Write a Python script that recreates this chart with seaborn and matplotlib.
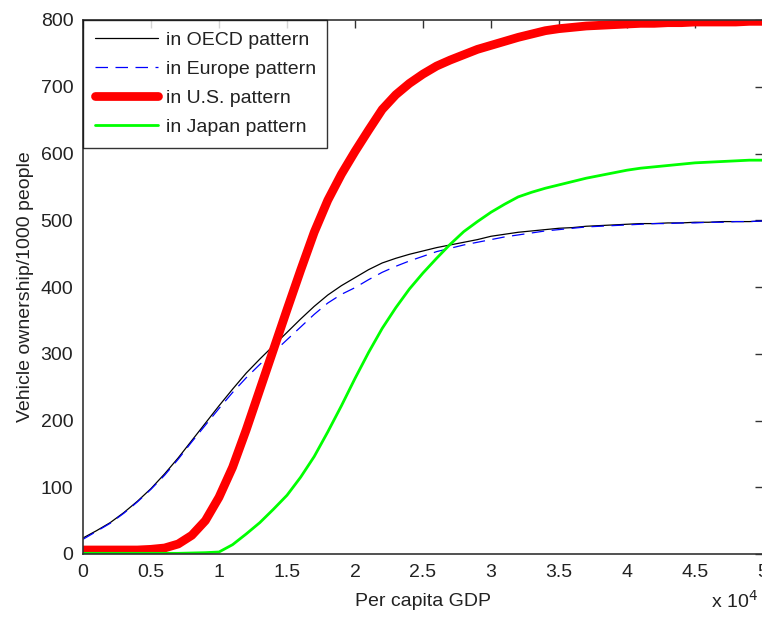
import pandas as pd
import numpy as np
import seaborn as sns
import matplotlib.pyplot as plt

gdp = np.round(np.arange(0, 5.01, 0.1), 1)

oecd = [24, 35, 47, 62, 79, 98, 120, 144, 170, 196,
        222, 247, 271, 292, 312, 332, 352, 371, 388, 402,
        414, 426, 436, 443, 449, 454, 459, 463, 467, 471,
        476, 479, 482, 484, 486, 488, 489, 491, 492, 493,
        494, 495, 495, 496, 496, 497, 497, 498, 498, 498, 499]
europe = [22, 34, 46, 61, 78, 97, 118, 142, 168, 193,
          218, 242, 264, 284, 302, 321, 340, 359, 376, 389,
          399, 411, 422, 431, 439, 446, 453, 458, 463, 467,
          471, 475, 478, 481, 484, 486, 488, 490, 491, 492,
          493, 494, 495, 495, 496, 496, 497, 497, 498, 498, 499]
us = [6, 6, 6, 6, 6, 7, 9, 15, 28, 50,
      85, 130, 186, 246, 306, 366, 425, 482, 530, 569,
      603, 635, 666, 688, 705, 719, 731, 740, 748, 756,
      762, 768, 774, 779, 784, 787, 789, 791, 792, 793,
      794, 795, 795, 796, 796, 797, 797, 797, 797, 798, 798]
japan = [1, 1, 1, 1, 1, 1, 1, 1, 1.5, 2,
         3, 14, 30, 47, 67, 88, 115, 146, 183, 222,
         263, 302, 338, 369, 397, 421, 443, 464, 483, 498,
         512, 524, 535, 542, 548, 553, 558, 563, 567, 571,
         575, 578, 580, 582, 584, 586, 587, 588, 589, 590, 590]

labels = ['in OECD pattern', 'in Europe pattern', 'in U.S. pattern', 'in Japan pattern']

df = pd.DataFrame({'gdp': gdp, labels[0]: oecd, labels[1]: europe,
                   labels[2]: us, labels[3]: japan})

sns.set_style('white')
plt.rcParams['font.family'] = ['Liberation Sans', 'DejaVu Sans']

fig = plt.figure(figsize=(7.62, 6.17), dpi=100)
ax = fig.add_axes([83 / 762, 63 / 617, 680 / 762, 534 / 617])

sns.lineplot(data=df, x='gdp', y=labels[0], ax=ax, color='black', linewidth=0.9, label=labels[0])
sns.lineplot(data=df, x='gdp', y=labels[1], ax=ax, color='#0000ff', linewidth=0.9, label=labels[1])
sns.lineplot(data=df, x='gdp', y=labels[2], ax=ax, color='#ff0000', linewidth=6.3, label=labels[2])
sns.lineplot(data=df, x='gdp', y=labels[3], ax=ax, color='#00ff00', linewidth=2.0, label=labels[3])
ax.lines[1].set_dashes((10, 6))

ax.set_xlim(0, 5)
ax.set_ylim(0, 800)
ax.set_xticks(np.arange(0, 5.01, 0.5))
ax.set_xticklabels(['0', '0.5', '1', '1.5', '2', '2.5', '3', '3.5', '4', '4.5', '5'])
ax.set_yticks(np.arange(0, 801, 100))
ax.tick_params(direction='in', length=6, width=1, top=True, right=True,
               labelsize=14, labelcolor='#222222', color='#333333', pad=7)
for s in ax.spines.values():
    s.set_color('#333333')
    s.set_linewidth(1.2)

ax.set_xlabel('Per capita GDP', fontsize=14, color='#222222', labelpad=9)
ax.set_ylabel('Vehicle ownership/1000 people', fontsize=14, color='#222222', labelpad=5)
fig.text(711 / 762, 1 - 612 / 617, 'x 10$^{4}$', fontsize=14, color='#222222', ha='left', va='bottom')

# legend sits in the top-left corner, frame flush with the axes
leg = ax.legend(loc='upper left', borderaxespad=0, fontsize=14, frameon=True, fancybox=False,
                handlelength=3.25, handletextpad=0.4, labelspacing=0.58, borderpad=0.6)
leg.get_frame().set_edgecolor('black')
leg.get_frame().set_linewidth(1.0)
for t in leg.get_texts():
    t.set_color('#222222')
for h in leg.get_lines():
    if h.get_color() == '#0000ff':
        h.set_dashes((10, 6))

plt.savefig('out.png', dpi=100)
